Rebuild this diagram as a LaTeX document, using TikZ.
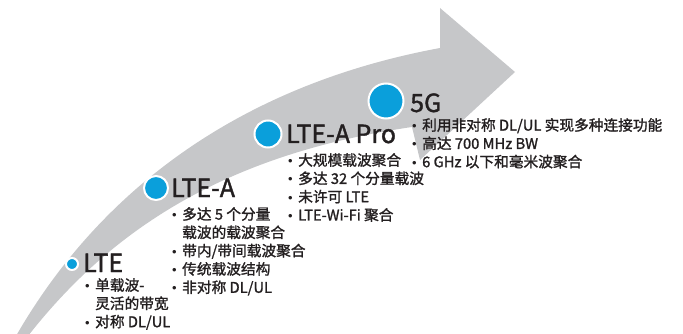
\documentclass[tikz,border=0pt]{standalone}
\usepackage{fontspec}
\setmainfont{Noto Sans CJK SC}[UprightFeatures={FakeBold=1.4}]
\newfontfamily\bulletfont{Liberation Sans}
\definecolor{bandgrey}{HTML}{C6C7C9}
\definecolor{dotblue}{HTML}{0A9FDB}
\definecolor{ink}{HTML}{231F20}
\newcommand{\bt}{\makebox[10pt][l]{\bulletfont\fontsize{13}{13}\selectfont\textbullet}}
\tikzset{
  heading/.style={anchor=base west, inner sep=0pt, text=ink, font=\fontsize{25}{25}\selectfont},
  blist/.style={anchor=base west, inner sep=0pt, text=ink, font=\fontsize{14.7}{18.3}\selectfont},
  bluedot/.style={circle, fill=dotblue, draw=white, line width=2pt, inner sep=0pt}
}
\begin{document}
\begin{tikzpicture}[x=1pt,y=-1pt]
\useasboundingbox (0,0) rectangle (683,334);
% curved arrow band
\fill[bandgrey] (16,336) .. controls (100,190) and (240,85) .. (440,48)
  -- (440,8) -- (515,72) -- (420,160) -- (412,127)
  .. controls (220,155) and (108,234) .. (28,336) -- cycle;
% dots
\node[bluedot, minimum size=12pt] (d1) at (72,264) {};
\node[bluedot, minimum size=24pt] (d2) at (156,188) {};
\node[bluedot, minimum size=27pt] (d3) at (268,134) {};
\node[bluedot, minimum size=35pt] (d4) at (386,101) {};
% headings
\node[heading] (h1) at (83,272) {LTE};
\node[heading] (h2) at (171,197) {LTE-A};
\node[heading] (h3) at (286,143) {LTE-A Pro};
\node[heading] (h4) at (410,112) {5G};
% lists
\node[blist] (l1) at (85,290.6) {\begin{tabular}[t]{@{}l@{}l@{}}
\bt&单载波-\\
&灵活的带宽\\
\bt&对称 DL/UL\end{tabular}};
\node[blist] (l2) at (172,219.6) {\begin{tabular}[t]{@{}l@{}l@{}}
\bt&多达 5 个分量\\
&载波的载波聚合\\
\bt&带内/带间载波聚合\\
\bt&传统载波结构\\
\bt&非对称 DL/UL\end{tabular}};
\node[blist] (l3) at (288,165.6) {\begin{tabular}[t]{@{}l@{}l@{}}
\bt&大规模载波聚合\\
\bt&多达 32 个分量载波\\
\bt&未许可 LTE\\
\bt&LTE-Wi-Fi 聚合\end{tabular}};
\node[blist] (l4) at (412,130.6) {\begin{tabular}[t]{@{}l@{}l@{}}
\bt&利用非对称 DL/UL 实现多种连接功能\\
\bt&高达 700 MHz BW\\
\bt&6 GHz 以下和毫米波聚合\end{tabular}};
\end{tikzpicture}
\end{document}
